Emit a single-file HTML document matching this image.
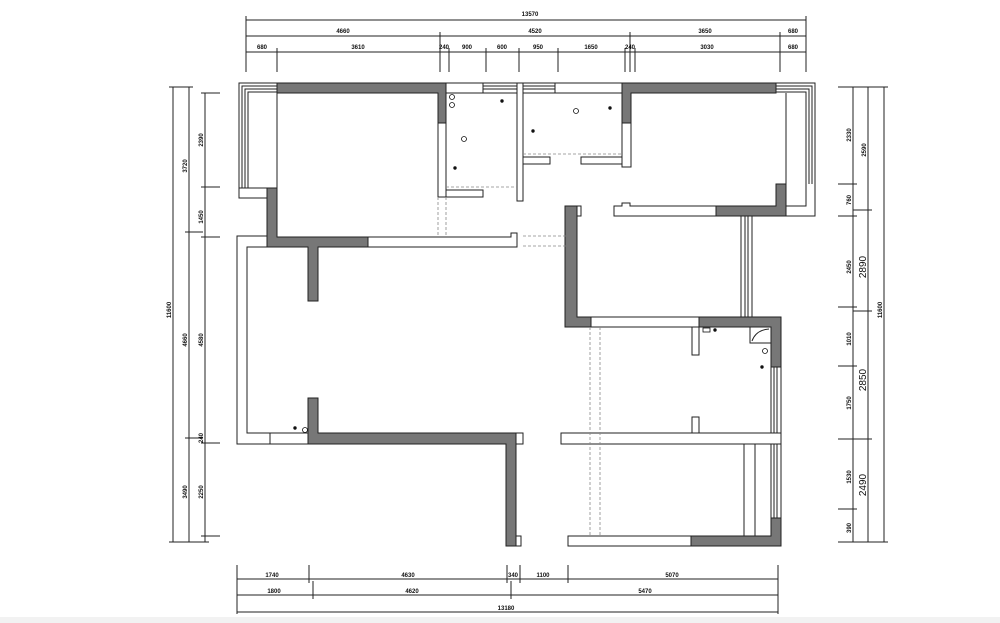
<!DOCTYPE html>
<html><head><meta charset="utf-8"><style>
html,body{margin:0;padding:0;background:#fff;width:1000px;height:623px;overflow:hidden}
svg{display:block}
text{font-family:"Liberation Sans",sans-serif;font-size:6px;font-weight:bold;fill:#111}
text.big{font-size:10px;font-weight:normal}
</style></head><body>
<svg width="1000" height="623" viewBox="0 0 1000 623" xmlns="http://www.w3.org/2000/svg">
<rect x="0" y="617" width="1000" height="6" fill="#f2f2f2"/>
<g stroke="#222" stroke-width="1" fill="none">
<line x1="246" y1="20" x2="806" y2="20"/>
<line x1="246" y1="36" x2="806" y2="36"/>
<line x1="246" y1="52" x2="806" y2="52"/>
<line x1="246" y1="16" x2="246" y2="72"/><line x1="806" y1="16" x2="806" y2="72"/>
<line x1="440" y1="32" x2="440" y2="72"/><line x1="630" y1="32" x2="630" y2="72"/><line x1="780" y1="32" x2="780" y2="72"/>
<line x1="277" y1="48" x2="277" y2="72"/><line x1="449" y1="48" x2="449" y2="72"/><line x1="486" y1="48" x2="486" y2="72"/>
<line x1="519" y1="48" x2="519" y2="72"/><line x1="558" y1="48" x2="558" y2="72"/><line x1="625" y1="48" x2="625" y2="72"/><line x1="635" y1="48" x2="635" y2="72"/>
<line x1="237" y1="579" x2="778" y2="579"/>
<line x1="237" y1="595" x2="778" y2="595"/>
<line x1="237" y1="612" x2="778" y2="612"/>
<line x1="237" y1="565" x2="237" y2="614"/><line x1="778" y1="565" x2="778" y2="614"/>
<line x1="309" y1="565" x2="309" y2="583"/><line x1="507" y1="565" x2="507" y2="583"/><line x1="520" y1="565" x2="520" y2="583"/><line x1="568" y1="565" x2="568" y2="583"/>
<line x1="313" y1="581" x2="313" y2="599"/><line x1="511" y1="581" x2="511" y2="599"/>
<line x1="173" y1="87" x2="173" y2="542"/><line x1="189" y1="87" x2="189" y2="542"/><line x1="205" y1="93" x2="205" y2="542"/>
<line x1="169" y1="87" x2="193" y2="87"/><line x1="169" y1="542" x2="209" y2="542"/>
<line x1="201" y1="93" x2="220" y2="93"/><line x1="201" y1="187" x2="220" y2="187"/><line x1="201" y1="237" x2="220" y2="237"/>
<line x1="201" y1="443" x2="220" y2="443"/><line x1="201" y1="536" x2="220" y2="536"/>
<line x1="185" y1="232" x2="203" y2="232"/><line x1="185" y1="438" x2="203" y2="438"/>
<line x1="853" y1="87" x2="853" y2="542"/><line x1="868" y1="87" x2="868" y2="542"/><line x1="884" y1="87" x2="884" y2="542"/>
<line x1="838" y1="87" x2="888" y2="87"/><line x1="838" y1="542" x2="888" y2="542"/>
<line x1="838" y1="184" x2="857" y2="184"/><line x1="838" y1="216" x2="857" y2="216"/><line x1="838" y1="307" x2="857" y2="307"/>
<line x1="838" y1="366" x2="857" y2="366"/><line x1="838" y1="439" x2="872" y2="439"/><line x1="838" y1="509" x2="857" y2="509"/>
<line x1="853" y1="210" x2="872" y2="210"/><line x1="853" y1="311" x2="872" y2="311"/>
</g>
<g>
<text x="530" y="16" text-anchor="middle">13570</text>
<text x="343" y="33" text-anchor="middle">4660</text><text x="535" y="33" text-anchor="middle">4520</text>
<text x="705" y="33" text-anchor="middle">3650</text><text x="793" y="33" text-anchor="middle">680</text>
<text x="262" y="49" text-anchor="middle">680</text><text x="358" y="49" text-anchor="middle">3610</text>
<text x="444" y="49" text-anchor="middle">240</text><text x="467" y="49" text-anchor="middle">900</text>
<text x="502" y="49" text-anchor="middle">600</text><text x="538" y="49" text-anchor="middle">950</text>
<text x="591" y="49" text-anchor="middle">1650</text><text x="630" y="49" text-anchor="middle">240</text>
<text x="707" y="49" text-anchor="middle">3030</text><text x="793" y="49" text-anchor="middle">680</text>
<text x="272" y="577" text-anchor="middle">1740</text><text x="408" y="577" text-anchor="middle">4630</text>
<text x="513" y="577" text-anchor="middle">340</text><text x="543" y="577" text-anchor="middle">1100</text>
<text x="672" y="577" text-anchor="middle">5070</text>
<text x="274" y="593" text-anchor="middle">1800</text><text x="412" y="593" text-anchor="middle">4620</text>
<text x="645" y="593" text-anchor="middle">5470</text>
<text x="506" y="610" text-anchor="middle">13180</text>
<g text-anchor="middle">
<text transform="translate(171,310) rotate(-90)">11600</text>
<text transform="translate(187,166) rotate(-90)">3720</text>
<text transform="translate(187,340) rotate(-90)">4660</text>
<text transform="translate(187,492) rotate(-90)">3490</text>
<text transform="translate(203,140) rotate(-90)">2390</text>
<text transform="translate(203,217) rotate(-90)">1450</text>
<text transform="translate(203,340) rotate(-90)">4580</text>
<text transform="translate(203,438) rotate(-90)">240</text>
<text transform="translate(203,492) rotate(-90)">2250</text>
<text transform="translate(851,135) rotate(-90)">2330</text>
<text transform="translate(851,200) rotate(-90)">760</text>
<text transform="translate(851,267) rotate(-90)">2450</text>
<text transform="translate(851,339) rotate(-90)">1010</text>
<text transform="translate(851,403) rotate(-90)">1750</text>
<text transform="translate(851,477) rotate(-90)">1530</text>
<text transform="translate(851,528) rotate(-90)">390</text>
<text transform="translate(866,150) rotate(-90)">2590</text>
<text transform="translate(882,310) rotate(-90)">11600</text>
<text class="big" transform="translate(866,267) rotate(-90)">2890</text>
<text class="big" transform="translate(866,380) rotate(-90)">2850</text>
<text class="big" transform="translate(866,485) rotate(-90)">2490</text>
</g>
</g>

<g stroke="#222" stroke-width="1">
<g fill="none">
<path d="M239,188 V83 H277"/><path d="M242,188 V86 H277"/><path d="M245,188 V89 H277"/><path d="M248,188 V92 H277"/>
<path d="M815,184 V83 H776"/><path d="M812,184 V86 H776"/><path d="M809,184 V89 H776"/><path d="M806,184 V92 H776"/>
</g>
<rect x="239" y="188" width="28" height="10" fill="#fff"/>
<line x1="277" y1="93" x2="277" y2="188"/>
<path d="M806,184 V206 H786 M815,184 V216 H786" fill="none"/>
<line x1="786" y1="93" x2="786" y2="184"/>
<polygon points="277,83 446,83 446,123 438,123 438,93 277,93" fill="#777"/>
<polygon points="267,188 277,188 277,237 368,237 368,247 318,247 318,301 308,301 308,247 267,247" fill="#777"/>
<polygon points="368,237 511,237 511,233 517,233 517,247 368,247" fill="#fff"/>
<rect x="438" y="123" width="8" height="74" fill="#fff"/>
<rect x="446" y="190" width="37" height="7" fill="#fff"/>
<rect x="446" y="83" width="37" height="10" fill="#fff"/>
<rect x="483" y="83" width="34" height="10" fill="#fff"/>
<line x1="483" y1="86" x2="517" y2="86"/><line x1="483" y1="89" x2="517" y2="89"/>
<rect x="517" y="83" width="6" height="118" fill="#fff"/>
<rect x="523" y="83" width="32" height="10" fill="#fff"/>
<line x1="523" y1="86" x2="555" y2="86"/><line x1="523" y1="89" x2="555" y2="89"/>
<rect x="555" y="83" width="67" height="10" fill="#fff"/>
<rect x="523" y="157" width="27" height="7" fill="#fff"/>
<rect x="581" y="157" width="41" height="7" fill="#fff"/>
<polygon points="622,83 776,83 776,93 631,93 631,123 622,123" fill="#777"/>
<rect x="622" y="123" width="9" height="44" fill="#fff"/>
<polygon points="776,184 786,184 786,216 716,216 716,206 776,206" fill="#777"/>
<polygon points="614,206 622,206 622,203 630,203 630,206 716,206 716,216 614,216" fill="#fff"/>
<rect x="741" y="216" width="11" height="101" fill="#fff"/>
<line x1="745" y1="216" x2="745" y2="317"/><line x1="748" y1="216" x2="748" y2="317"/>
<polygon points="567,206 577,206 577,317 591,317 591,327 565,327 565,206" fill="#777"/>
<rect x="577" y="206" width="4" height="10" fill="#fff"/>
<rect x="591" y="317" width="108" height="10" fill="#fff"/>
<polygon points="699,317 781,317 781,367 771,367 771,327 699,327" fill="#777"/>
<rect x="771" y="367" width="10" height="151" fill="#fff"/>
<line x1="774" y1="367" x2="774" y2="518"/><line x1="777" y1="367" x2="777" y2="518"/>
<polygon points="771,518 781,518 781,546 691,546 691,536 771,536" fill="#777"/>
<rect x="568" y="536" width="123" height="10" fill="#fff"/>
<rect x="561" y="433" width="220" height="11" fill="#fff"/>
<rect x="744" y="444" width="11" height="92" fill="#fff"/>
<rect x="692" y="327" width="7" height="28" fill="#fff"/>
<rect x="692" y="417" width="7" height="16" fill="#fff"/>
<rect x="750" y="327" width="21" height="16" fill="#fff"/>
<path d="M752,341 Q756,330 769,329" fill="none"/>
<path d="M267,236 H237 V444 H308 M267,247 H247 V433 H308" fill="none"/>
<line x1="270" y1="433" x2="270" y2="444"/>
<polygon points="308,398 318,398 318,433 516,433 516,546 506,546 506,444 308,444" fill="#777"/>
<rect x="516" y="433" width="7" height="11" fill="#fff"/>
<rect x="516" y="536" width="5" height="10" fill="#fff"/>
</g>
<g stroke="#888" stroke-width="0.8" stroke-dasharray="3,2" fill="none">
<line x1="446" y1="187" x2="517" y2="187"/>
<line x1="523" y1="154" x2="622" y2="154"/>
<line x1="438" y1="197" x2="438" y2="236"/><line x1="446" y1="197" x2="446" y2="236"/>
<line x1="523" y1="236" x2="567" y2="236"/><line x1="523" y1="246" x2="567" y2="246"/>
<line x1="590" y1="327" x2="590" y2="536"/><line x1="600" y1="327" x2="600" y2="536"/>
</g>
<g fill="#111" stroke="#111" stroke-width="0.8">
<circle cx="502" cy="101" r="1.3"/><circle cx="455" cy="168" r="1.3"/><circle cx="610" cy="108" r="1.3"/>
<circle cx="533" cy="131" r="1.3"/><circle cx="715" cy="330" r="1.3"/><circle cx="762" cy="367" r="1.3"/><circle cx="295" cy="428" r="1.3"/>
</g>
<g fill="none" stroke="#111" stroke-width="0.8">
<circle cx="452" cy="97" r="2.5"/><circle cx="452" cy="105" r="2.5"/><circle cx="464" cy="139" r="2.5"/>
<circle cx="576" cy="111" r="2.5"/><circle cx="765" cy="351" r="2.5"/><circle cx="305" cy="430" r="2.5"/>
<rect x="703" y="328" width="7" height="4"/>
</g>
</svg>
</body></html>
